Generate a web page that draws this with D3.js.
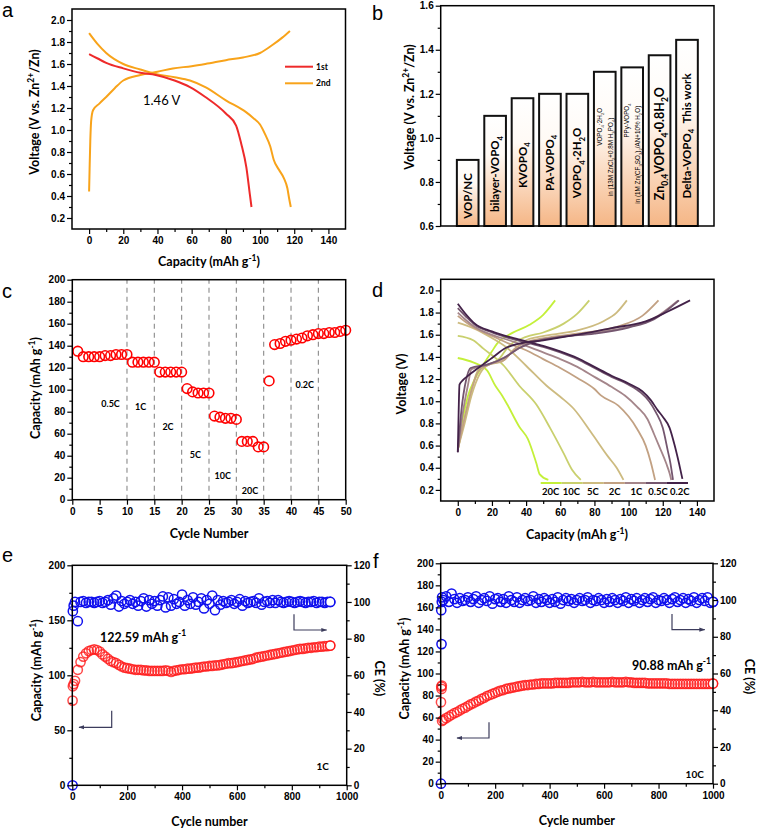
<!DOCTYPE html>
<html><head><meta charset="utf-8">
<script src="https://cdn.jsdelivr.net/npm/d3@7"></script>
<style>
body{margin:0;background:#fff;}
svg{display:block;}
.ax text{font-family:"Liberation Sans",Arial,sans-serif;font-weight:bold;font-size:10px;fill:#000;}
.ax line{stroke:#000;stroke-width:1.2;}
.title{font-family:Lato,sans-serif;font-weight:bold;font-size:12.5px;fill:#000;}
.letter{font-family:"Liberation Sans",Arial,sans-serif;font-size:20px;fill:#000;}
.lab{font-family:Lato,sans-serif;font-weight:bold;fill:#000;}
</style></head><body>
<svg id="chart" width="757" height="831"></svg>
<script>
// ================= DATA =================
// Panel a
const a1stCap = [0,5,10,20,30,39,50,59,68,80,86,89,92,94,95];
const a1stV   = [1.69,1.65,1.61,1.56,1.52,1.50,1.45,1.39,1.30,1.15,1.04,0.875,0.66,0.42,0.30];
const a2ndDisCap = [0,5,10,20,30,39,50,59,68,80,92,96,100,103,106,108,111,114,116,117,118];
const a2ndDisV   = [1.88,1.78,1.70,1.60,1.55,1.51,1.48,1.45,1.39,1.27,1.16,1.11,1.05,0.96,0.85,0.73,0.64,0.56,0.47,0.38,0.30];
const a2ndChCap = [0,0.3,0.7,1.2,2.3,6,10,15,20,30,40,49,60,68,80,90,100,107,113,117.5];
const a2ndChV   = [0.44,0.65,0.9,1.08,1.18,1.24,1.30,1.38,1.45,1.50,1.53,1.56,1.58,1.60,1.635,1.66,1.70,1.77,1.84,1.90];
const aLegend = ['1st','2nd'];

// Panel b
const bLabels = ['VOP/NC','bilayer-VOPO_{4}','KVOPO_{4}','PA-VOPO_{4}','VOPO_{4}·2H_{2}O',
  'VOPO_{4}·2H_{2}O|in (13M ZnCl_{2}+0.8M H_{3}PO_{4})',
  'PPy-VOPO_{4}|in (1M Zn(CF_{3}SO_{3})_{2}/AN+10% H_{2}O)',
  'Zn_{0.4}VOPO_{4}·0.8H_{2}O','Delta-VOPO_{4}\u00a0\u00a0This work'];
const bValues = [0.90,1.10,1.18,1.20,1.20,1.30,1.32,1.375,1.445];

// Panel c
const cCycle = [1,2,3,4,5,6,7,8,9,10,11,12,13,14,15,16,17,18,19,20,21,22,23,24,25,26,27,28,29,30,31,32,33,34,35,36,37,38,39,40,41,42,43,44,45,46,47,48,49,50];
const cCap = [135,130,130,130,130,131,131,132,132,132,125,125,125,125,125,116,116,116,116,116,101,98,97,97,97,76,75,74,74,73,53,53,53,48,48,108,141,142,144,145,146,147,149,150,151,151,152,152,153,154];
const cRateLabels = ['0.5C','1C','2C','5C','10C','20C','0.2C'];
const cRateCycle = [7,12.5,17.5,22.5,27.5,32.5,42.5];
const cRateCap = [87,84,66,41,22,8,104];
const cDividers = [10,15,20,25,30,35,40,45];

// Panel d
const dRates = ['20C','10C','5C','2C','1C','0.5C','0.2C'];
const dChCap = [
 [0,3,6,10,15,20,23,30,42,50,57],
 [0,4,8,12,18,24,30,40,50,62,70,77],
 [0,4,8,13,18,26,32,40,55,70,85,93,99],
 [0,4,8,12,18,27,33,42,55,75,95,108,117.5],
 [0,3,6,8,18,28,36,45,60,80,100,115,129],
 [0,2,5,7.5,17,27,36,46,60,80,100,115,129.5],
 [0,0.5,1,3,6,12,20,28,36,50,70,90,110,123,136]];
const dChV = [
 [0.56,0.85,1.05,1.2,1.33,1.45,1.52,1.60,1.69,1.78,1.91],
 [0.56,0.85,1.1,1.28,1.33,1.38,1.50,1.58,1.62,1.70,1.79,1.91],
 [0.57,0.8,1.05,1.25,1.33,1.36,1.45,1.55,1.60,1.64,1.72,1.80,1.91],
 [0.56,0.85,1.1,1.27,1.33,1.37,1.47,1.54,1.58,1.62,1.68,1.77,1.91],
 [0.55,0.9,1.15,1.29,1.33,1.40,1.48,1.54,1.58,1.62,1.67,1.75,1.91],
 [0.54,0.9,1.2,1.30,1.33,1.39,1.48,1.54,1.58,1.61,1.665,1.74,1.91],
 [0.54,0.9,1.15,1.19,1.23,1.30,1.39,1.48,1.52,1.55,1.60,1.66,1.72,1.81,1.91]];
const dDisCap = [
 [0,9,17,22,26,29,36,41,46,48,53],
 [0,9,15,27,36,46,54,62,67,72],
 [0,9,20,29,40,52,60,68,78,88,93,97],
 [0,5,10,20,30,40,50,60,70,80,84,94,105,110,113,115.5],
 [0,5,10,20,30,40,50,60,70,80,90,98,105,111,115,118,122,124,125],
 [0,5,10,20,30,40,50,60,70,80,90,100,107,112,116,120,123,124.5,126],
 [0,5,10,20,30,40,50,60,70,80,90,100,108,113,117,120,124,127,129.5,131.5]];
const dDisV = [
 [1.39,1.35,1.28,1.14,1.05,0.97,0.77,0.66,0.44,0.34,0.29],
 [1.59,1.55,1.475,1.32,1.14,0.97,0.76,0.53,0.38,0.29],
 [1.71,1.66,1.57,1.48,1.32,1.14,1.04,0.93,0.72,0.50,0.40,0.29],
 [1.77,1.71,1.66,1.59,1.52,1.46,1.38,1.30,1.21,1.11,1.05,0.96,0.75,0.60,0.45,0.29],
 [1.80,1.73,1.67,1.60,1.55,1.50,1.44,1.38,1.31,1.22,1.13,1.05,0.95,0.84,0.70,0.59,0.44,0.35,0.29],
 [1.84,1.76,1.69,1.62,1.57,1.53,1.49,1.44,1.38,1.30,1.22,1.15,1.08,1.00,0.90,0.76,0.55,0.44,0.29],
 [1.88,1.78,1.70,1.63,1.58,1.54,1.50,1.45,1.39,1.31,1.23,1.16,1.09,1.01,0.92,0.86,0.76,0.60,0.44,0.30]];
const dColors = ['#c4f03a','#c9d06e','#cdbb80','#c2a183','#a4858a','#74566f','#432249'];

// Panel e
const eCycle = [1,2,5,10,20,30,40,50,60,70,80,90,100,110,120,130,140,150,160,170,180,190,200,210,220,230,240,250,260,270,280,290,300,310,320,330,340,350,360,370,380,390,400,410,420,430,440,450,460,470,480,490,500,510,520,530,540,550,560,570,580,590,600,610,620,630,640,650,660,670,680,690,700,710,720,730,740,750,760,770,780,790,800,810,820,830,840,850,860,870,880,890,900,910,920,930,940];
const eCap = [77,90,92,95,105,112,117,120,122,123,123.5,123,121.5,
 119,117,115,113,112,111,109.5,108,107,106.5,
 106,105.5,105,105,105,104.5,104.5,104,104,104,
 104,104,104,104.5,104,103,104,104.5,105,105.5,
 105.5,106,106,106.5,107,107,107.5,108,108,108.5,
 108.5,109,109,109.5,110,110.5,111,111,111.5,112,
 112.5,113,113.5,114,114.5,115,116,116.5,117,117.5,
 118,118.5,119,119.5,120,120.5,121,121.5,122,122.5,
 123,123.5,124,124,124.5,125,125,125.5,125.5,126,
 126,126.5,126.5,127];
const eCE = [0,95,98,100,89.5,100,100.5,99.5,100,100,99.5,100,100.5,
 99.5,100,101,98.5,102,103.5,97.5,100.5,99,100,
 101,99,100,98,100.5,102,97.5,101,99,100.5,
 98,101,103,97,102.5,98,101.5,99,100,104,
 98,101,99,102.5,98.5,100,102,96.5,101,99,
 103.5,95.5,101,98.5,100.5,99.5,100,101,99,100,
 101.5,98,100.5,99.5,100,100.5,99.5,102,98.5,100,
 100.5,99.5,101,99.5,101,100,99.5,100,100.5,100,
 99.5,100,100.5,100,99.5,100,100,100.5,99.5,100,
 100,99.5,100,100];

// Panel f
const fCycle = [1,2,3,4,5,10,20,30,40,50,60,70,80,90,100,110,120,130,140,150,160,170,180,190,200,210,220,230,240,250,260,270,280,290,300,310,320,330,340,350,360,370,380,390,400,410,420,430,440,450,460,470,480,490,500,510,520,530,540,550,560,570,580,590,600,610,620,630,640,650,660,670,680,690,700,710,720,730,740,750,760,770,780,790,800,810,820,830,840,850,860,870,880,890,900,910,920,930,940,950,960,970,980,990,1000];
const fCap = [74,88,86,89,57,
 58,59.5,61,62.5,64,65,66.5,68,69,70.5,
 72,73,74.5,75.5,77,78,79.5,80.5,81.5,82.5,
 83.5,84.5,85,86,86.5,87,87.5,88,88.5,89,
 89.5,89.5,90,90,90.5,90.5,91,91,91,91,
 91,91.5,91.5,91.5,91.5,91.5,91.5,92,92,92,
 92,92.5,92,92,92,92.5,92,92,92,92,
 92,92,92.5,92,92,92,92,92.5,92,92,
 91.5,91.5,91.5,91.5,91.5,91,91,91,91,91,
 91,91,91,90.5,90.5,90.5,90.5,90.5,90.5,90.5,
 90.5,90.5,90.5,90.5,90.5,90.5,90.5,90.5,90.5,90.9];
const fCE = [0,94.5,76,99,101.5,
 100,102,99,103.5,100.5,98.5,101,99.5,100,101.5,
 99,100.5,102,98.5,100,101,99.5,102,98,100.5,
 101,99,100.5,98.5,102,100,99,101.5,98.5,100,
 101,99.5,100,102,98.5,100.5,99,101,100,98.5,
 100.5,99,101.5,98,100,101,99.5,100.5,98.5,100,
 101,99.5,100,101.5,98.5,100,99.5,101,100,98.5,
 100.5,99,101,100,98.5,100.5,99.5,101.5,98.5,100.5,
 99.5,101,98.5,100,101,99,100.5,101.5,98.5,100,
 99.5,101,100,98.5,100.5,101.5,99,100,101,98.5,
 100.5,99.5,101.5,98.5,100,101,99.5,101.5,98.5,99];

// ================= HELPERS =================
const svg = d3.select('#chart');

function rich(sel, str, fs) {
  const parts = str.split(/(_\{[^}]*\}|\^\{[^}]*\})/).filter(s => s.length);
  let cur = 0;
  parts.forEach(p => {
    let t = p, target = 0, small = false;
    if (p.startsWith('_{')) { t = p.slice(2, -1); target = 0.3 * fs; small = true; }
    else if (p.startsWith('^{')) { t = p.slice(2, -1); target = -0.42 * fs; small = true; }
    const ts = sel.append('tspan').text(t);
    if (target - cur !== 0) ts.attr('dy', target - cur);
    if (small) ts.attr('font-size', 0.68 * fs);
    cur = target;
  });
  return sel;
}

function frame(x, y) {
  const [x0, x1] = x.range(), [yb, yt] = y.range();
  svg.append('rect').attr('x', x0).attr('y', yt).attr('width', x1 - x0).attr('height', yb - yt)
    .attr('fill', 'none').attr('stroke', '#000').attr('stroke-width', 1.5);
}
function axB(x, ypos, major, minor, fmt) {
  const g = svg.append('g').attr('class', 'ax').attr('transform', `translate(0,${ypos})`)
    .call(d3.axisBottom(x).tickValues(major).tickSize(5).tickPadding(3).tickFormat(fmt));
  g.select('.domain').remove();
  if (minor) svg.append('g').attr('class', 'ax').attr('transform', `translate(0,${ypos})`)
    .call(d3.axisBottom(x).tickValues(minor).tickSize(3).tickFormat(() => '')).select('.domain').remove();
}
function axL(y, xpos, major, minor, fmt) {
  const g = svg.append('g').attr('class', 'ax').attr('transform', `translate(${xpos},0)`)
    .call(d3.axisLeft(y).tickValues(major).tickSize(5).tickPadding(2).tickFormat(fmt));
  g.select('.domain').remove();
  if (minor) svg.append('g').attr('class', 'ax').attr('transform', `translate(${xpos},0)`)
    .call(d3.axisLeft(y).tickValues(minor).tickSize(3).tickFormat(() => '')).select('.domain').remove();
}
function axR(y, xpos, major, minor, fmt) {
  const g = svg.append('g').attr('class', 'ax').attr('transform', `translate(${xpos},0)`)
    .call(d3.axisRight(y).tickValues(major).tickSize(5).tickPadding(2).tickFormat(fmt));
  g.select('.domain').remove();
  if (minor) svg.append('g').attr('class', 'ax').attr('transform', `translate(${xpos},0)`)
    .call(d3.axisRight(y).tickValues(minor).tickSize(3).tickFormat(() => '')).select('.domain').remove();
}
function title(str, x, y, rot) {
  const t = svg.append('text').attr('class', 'title').attr('text-anchor', 'middle')
    .attr('transform', `translate(${x},${y}) rotate(${rot || 0})`).attr('dy', rot ? '0.35em' : 0);
  rich(t, str, 12.5);
}
function letter(s, x, y) {
  svg.append('text').attr('class', 'letter').attr('x', x).attr('y', y).text(s);
}
const f1 = d3.format('.1f'), fd = d3.format('d');

// marker
const defs = svg.append('defs');
defs.append('marker').attr('id', 'arrow').attr('viewBox', '0 0 10 10').attr('refX', 9).attr('refY', 5)
  .attr('markerWidth', 5).attr('markerHeight', 5).attr('orient', 'auto-start-reverse')
  .append('path').attr('d', 'M0,1.5 L10,5 L0,8.5 Z').attr('fill', '#3c3c5c');
const grad = defs.append('linearGradient').attr('id', 'barGrad').attr('x1', 0).attr('y1', 0).attr('x2', 0).attr('y2', 1);
grad.append('stop').attr('offset', '0%').attr('stop-color', '#ffffff');
grad.append('stop').attr('offset', '35%').attr('stop-color', '#fffaf5');
grad.append('stop').attr('offset', '100%').attr('stop-color', '#f5b686');

// ================= PANEL A =================
{
  const x = d3.scaleLinear().domain([-10, 150]).range([72, 345.5]);
  const y = d3.scaleLinear().domain([0.1, 2.1]).range([229, 9]);
  const line = d3.line().x(d => x(d[0])).y(d => y(d[1])).curve(d3.curveMonotoneX);
  const series = [
    [d3.zip(a2ndDisCap, a2ndDisV), '#f8a31a'],
    [d3.zip(a2ndChCap, a2ndChV), '#f8a31a'],
    [d3.zip(a1stCap, a1stV), '#ee2a2a']];
  series.forEach(s => svg.append('path').attr('d', line(s[0])).attr('fill', 'none').attr('stroke', s[1]).attr('stroke-width', 2));
  frame(x, y);
  axB(x, 229, [0,20,40,60,80,100,120,140], [10,30,50,70,90,110,130], fd);
  axL(y, 72, [0.2,0.4,0.6,0.8,1.0,1.2,1.4,1.6,1.8,2.0], [0.3,0.5,0.7,0.9,1.1,1.3,1.5,1.7,1.9], f1);
  title('Voltage (V vs. Zn^{2+}/Zn)', 35, 112, -90);
  title('Capacity (mAh g^{-1})', 209, 266);
  const lc = ['#ee2a2a', '#f8a31a'];
  aLegend.forEach((l, i) => {
    svg.append('line').attr('x1', 285).attr('x2', 313).attr('y1', 66.7 + i * 16.6).attr('y2', 66.7 + i * 16.6)
      .attr('stroke', lc[i]).attr('stroke-width', 2);
    svg.append('text').attr('class', 'lab').attr('font-size', 8.5).attr('x', 316).attr('y', 69.8 + i * 16.6).text(l);
  });
  svg.append('text').attr('x', 143).attr('y', 104.5).attr('font-family', 'Lato,sans-serif').attr('font-size', 13).text('1.46 V');
  letter('a', 2, 17);
}

// ================= PANEL B =================
{
  const x = d3.scaleBand().domain(d3.range(bValues.length)).range([440.7, 714]).paddingInner(0.21).paddingOuter(0.59);
  const y = d3.scaleLinear().domain([0.6, 1.6]).range([226, 5.7]);
  svg.append('g').selectAll('rect').data(bValues).join('rect')
    .attr('x', (d, i) => x(i)).attr('y', d => y(d)).attr('width', x.bandwidth()).attr('height', d => y(0.6) - y(d))
    .attr('fill', 'url(#barGrad)').attr('stroke', '#111').attr('stroke-width', 2);
  bLabels.forEach((lab, i) => {
    const cx = x(i) + x.bandwidth() / 2;
    const mid = (y(bValues[i]) + y(0.6)) / 2;
    const red = lab.startsWith('Delta');
    if (lab.includes('|')) {
      const [l1, l2] = lab.split('|');
      const t1 = svg.append('text').attr('font-family', '"Liberation Sans",Arial,sans-serif').attr('font-size', 6.3)
        .attr('text-anchor', 'end').attr('transform', `translate(${cx - 5},${y(bValues[i]) + 36}) rotate(-90)`).attr('dy', '0.35em');
      rich(t1, l1, 6.3);
      const t2 = svg.append('text').attr('font-family', '"Liberation Sans",Arial,sans-serif').attr('font-size', 6.3)
        .attr('text-anchor', 'middle').attr('transform', `translate(${cx + 6},${mid + 8}) rotate(-90)`).attr('dy', '0.35em');
      rich(t2, l2, 6.3);
    } else {
      const fs = lab.startsWith('Zn') ? 12.5 : 11.5;
      const t = svg.append('text').attr('class', 'lab').attr('font-size', fs).attr('text-anchor', 'middle')
        .attr('fill', red ? '#ff1010' : '#000')
        .attr('transform', `translate(${cx},${mid + 3}) rotate(-90)`).attr('dy', '0.35em');
      rich(t, lab, fs);
    }
  });
  frame(d3.scaleLinear().range([440.7, 714]), y);
  axL(y, 440.7, [0.6,0.8,1.0,1.2,1.4,1.6], [0.7,0.9,1.1,1.3,1.5], f1);
  title('Voltage (V vs. Zn^{2+}/Zn)', 410, 107, -90);
  letter('b', 372, 20);
}

// ================= PANEL C =================
{
  const x = d3.scaleLinear().domain([0, 50]).range([72.3, 345.7]);
  const y = d3.scaleLinear().domain([0, 200]).range([499.7, 279.7]);
  cDividers.forEach(v => svg.append('line').attr('x1', x(v)).attr('x2', x(v)).attr('y1', y(0)).attr('y2', y(200))
    .attr('stroke', '#8a8a8a').attr('stroke-width', 1.1).attr('stroke-dasharray', '5,4'));
  svg.append('g').selectAll('circle').data(d3.zip(cCycle, cCap)).join('circle')
    .attr('cx', d => x(d[0])).attr('cy', d => y(d[1])).attr('r', 4.8)
    .attr('fill', 'none').attr('stroke', '#ff0000').attr('stroke-width', 1.6);
  cRateLabels.forEach((l, i) => svg.append('text').attr('class', 'lab').attr('font-size', 9).attr('text-anchor', 'middle')
    .attr('x', x(cRateCycle[i])).attr('y', y(cRateCap[i]) + 3).text(l));
  frame(x, y);
  axB(x, 499.7, [0,5,10,15,20,25,30,35,40,45,50], null, fd);
  axL(y, 72.3, [0,20,40,60,80,100,120,140,160,180,200], [10,30,50,70,90,110,130,150,170,190], fd);
  title('Capacity (mAh g^{-1})', 36, 388, -90);
  title('Cycle Number', 209, 537.5);
  letter('c', 2, 298);
}

// ================= PANEL D =================
{
  const x = d3.scaleLinear().domain([-10, 150]).range([440.7, 714]);
  const y = d3.scaleLinear().domain([0.1, 2.1]).range([501, 279.3]);
  const line = d3.line().x(d => x(d[0])).y(d => y(d[1])).curve(d3.curveMonotoneX);
  dRates.forEach((r, i) => {
    svg.append('path').attr('d', line(d3.zip(dChCap[i], dChV[i]))).attr('fill', 'none').attr('stroke', dColors[i]).attr('stroke-width', 1.8);
    svg.append('path').attr('d', line(d3.zip(dDisCap[i], dDisV[i]))).attr('fill', 'none').attr('stroke', dColors[i]).attr('stroke-width', 1.8);
  });
  // legend
  const lx0 = 540.7, lx1 = 688, seg = (lx1 - lx0) / dRates.length;
  const lblX = [550.7, 571.3, 593, 614.7, 636.3, 658, 679.7];
  dRates.forEach((r, i) => {
    svg.append('line').attr('x1', lx0 + i * seg).attr('x2', lx0 + (i + 1) * seg).attr('y1', 483).attr('y2', 483)
      .attr('stroke', dColors[i]).attr('stroke-width', 2);
    svg.append('text').attr('class', 'lab').attr('font-size', 9.5).attr('text-anchor', 'middle')
      .attr('x', lblX[i]).attr('y', 494.5).text(r);
  });
  frame(x, y);
  axB(x, 501, [0,20,40,60,80,100,120,140], [10,30,50,70,90,110,130], fd);
  axL(y, 440.7, [0.2,0.4,0.6,0.8,1.0,1.2,1.4,1.6,1.8,2.0], [0.3,0.5,0.7,0.9,1.1,1.3,1.5,1.7,1.9], f1);
  title('Voltage (V)', 401.3, 384, -90);
  title('Capacity (mAh g^{-1})', 577, 539);
  letter('d', 372, 297);
}

// ================= PANELS E & F =================
function cyclePanel(opt) {
  const x = d3.scaleLinear().domain([0, 1000]).range([opt.x0, opt.x1]);
  const y = d3.scaleLinear().domain([0, 200]).range([opt.yb, opt.yt]);
  const yR = d3.scaleLinear().domain([0, 120]).range([opt.yb, opt.yt]);
  svg.append('g').selectAll('circle').data(d3.zip(opt.cyc, opt.cap)).join('circle')
    .attr('cx', d => x(d[0])).attr('cy', d => y(d[1])).attr('r', 4.6)
    .attr('fill', 'none').attr('stroke', '#ff1a1a').attr('stroke-opacity', 0.8).attr('stroke-width', 1.5);
  svg.append('g').selectAll('circle').data(d3.zip(opt.cyc, opt.ce)).join('circle')
    .attr('cx', d => x(d[0])).attr('cy', d => yR(d[1])).attr('r', 4.6)
    .attr('fill', 'none').attr('stroke', '#1010ee').attr('stroke-width', 1.5);
  const last = opt.cyc.length - 1;
  svg.append('circle').attr('cx', x(opt.cyc[last])).attr('cy', y(opt.cap[last])).attr('r', 4.6).attr('fill', '#fff').attr('stroke', '#ff1a1a').attr('stroke-width', 1.4);
  svg.append('circle').attr('cx', x(opt.cyc[last])).attr('cy', yR(opt.ce[last])).attr('r', 4.6).attr('fill', '#fff').attr('stroke', '#1010ee').attr('stroke-width', 1.5);
  frame(x, y);
  axB(x, opt.yb, [0,200,400,600,800,1000], [100,300,500,700,900], fd);
  axL(y, opt.x0, opt.yMajor, opt.yMinor, fd);
  axR(yR, opt.x1, [0,20,40,60,80,100,120], [10,30,50,70,90,110], fd);
  // arrows
  const la = opt.leftArrow, ra = opt.rightArrow;
  svg.append('path').attr('d', `M${la[0]},${la[1]} L${la[0]},${la[2]} L${la[3]},${la[2]}`)
    .attr('fill', 'none').attr('stroke', '#3c3c5c').attr('stroke-width', 1.2).attr('marker-end', 'url(#arrow)');
  svg.append('path').attr('d', `M${ra[0]},${ra[1]} L${ra[0]},${ra[2]} L${ra[3]},${ra[2]}`)
    .attr('fill', 'none').attr('stroke', '#3c3c5c').attr('stroke-width', 1.2).attr('marker-end', 'url(#arrow)');
  const ann = svg.append('text').attr('class', 'lab').attr('font-size', 12.5).attr('fill', '#17173f')
    .attr('x', opt.annX).attr('y', opt.annY);
  rich(ann, opt.ann, 12.5);
  svg.append('text').attr('class', 'lab').attr('font-size', 10).attr('text-anchor', 'middle')
    .attr('x', opt.rateX).attr('y', opt.rateY).text(opt.rate);
  title('Capacity (mAh g^{-1})', opt.ytX, (opt.yb + opt.yt) / 2 - 5, -90);
  title('Cycle number', (opt.x0 + opt.x1) / 2, opt.xtY);
  title('CE (%)', opt.ceX, (opt.yb + opt.yt) / 2 + 3, 90);
}
cyclePanel({x0: 72.3, x1: 346.7, yb: 785.3, yt: 565.3, cyc: eCycle, cap: eCap, ce: eCE,
  yMajor: [0,50,100,150,200], yMinor: [25,75,125,175],
  leftArrow: [111.7, 710.7, 727.3, 79], rightArrow: [294, 614.3, 630, 326.7],
  ann: '122.59 mAh g^{-1}', annX: 100, annY: 641.5, rate: '1C', rateX: 322.7, rateY: 769.5,
  ytX: 36.7, xtY: 826, ceX: 379});
cyclePanel({x0: 440.7, x1: 713, yb: 783.7, yt: 563.3, cyc: fCycle, cap: fCap, ce: fCE,
  yMajor: [0,20,40,60,80,100,120,140,160,180,200], yMinor: [10,30,50,70,90,110,130,150,170,190],
  leftArrow: [489, 722.3, 738, 457], rightArrow: [672, 614, 629.7, 704.7],
  ann: '90.88 mAh g^{-1}', annX: 632, annY: 669.5, rate: '10C', rateX: 694.7, rateY: 778,
  ytX: 404.7, xtY: 824.5, ceX: 749.7});
letter('e', 2, 562);
letter('f', 373, 568);
</script></body></html>
